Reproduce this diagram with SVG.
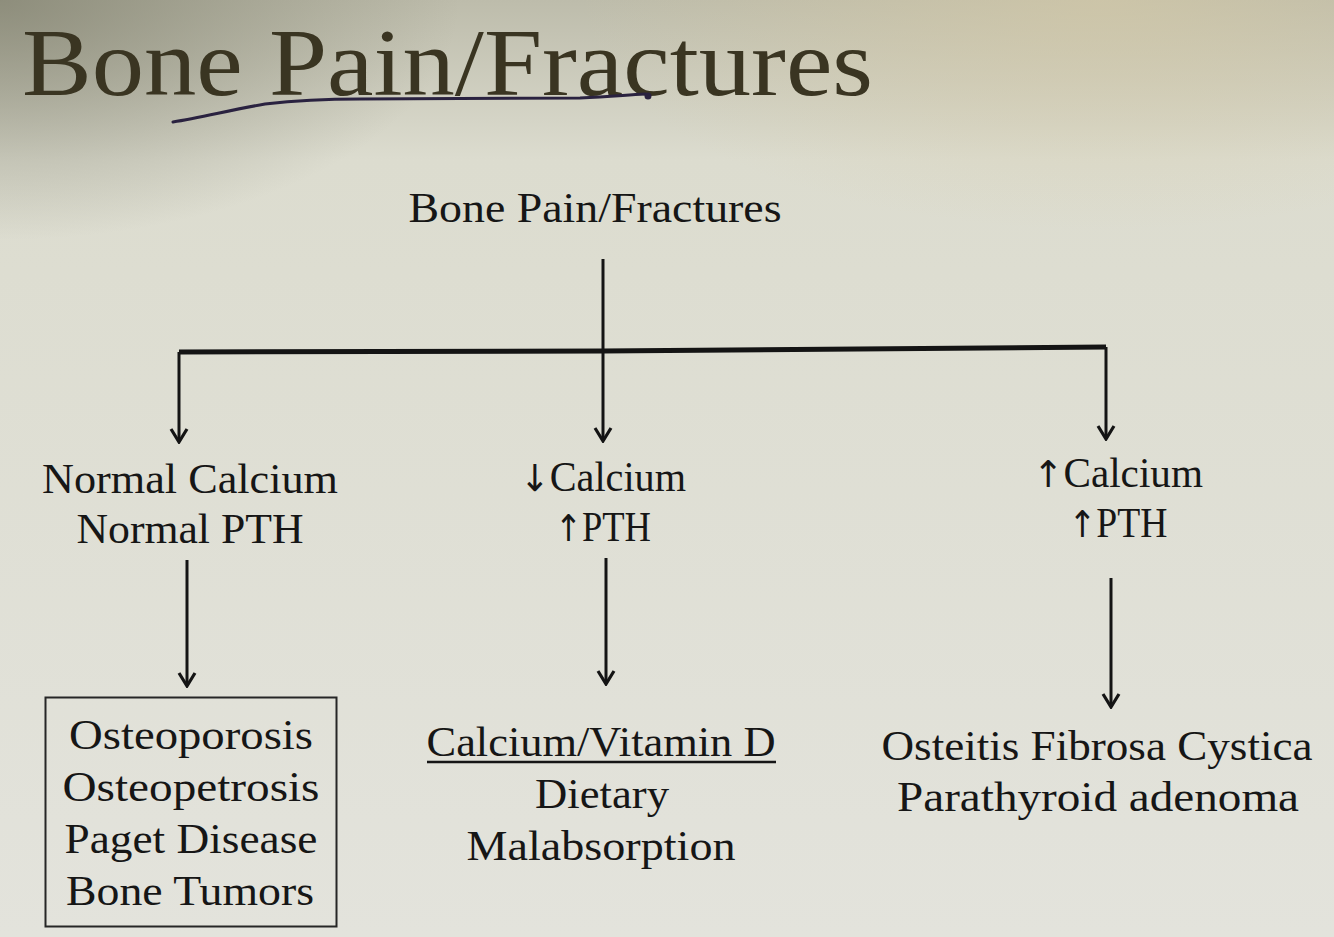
<svg xmlns="http://www.w3.org/2000/svg" width="1334" height="937" viewBox="0 0 1334 937">
<defs>
<linearGradient id="bg" x1="0" y1="0" x2="0" y2="1">
<stop offset="0" stop-color="#bdbcab"/>
<stop offset="0.17" stop-color="#dcdccf"/>
<stop offset="1" stop-color="#e3e3dc"/>
</linearGradient>
<radialGradient id="corner" cx="0" cy="0" r="1" gradientUnits="userSpaceOnUse" gradientTransform="translate(0,0) scale(460,240)">
<stop offset="0" stop-color="#7e7e6c" stop-opacity="0.75"/>
<stop offset="1" stop-color="#7e7e6c" stop-opacity="0"/>
</radialGradient>
<radialGradient id="warm" cx="0" cy="0" r="1" gradientUnits="userSpaceOnUse" gradientTransform="translate(1100,0) scale(520,230)">
<stop offset="0" stop-color="#d6caa6" stop-opacity="0.6"/>
<stop offset="1" stop-color="#d6caa6" stop-opacity="0"/>
</radialGradient>
<marker id="ah" viewBox="0 0 20 20" refX="18" refY="10" markerWidth="20" markerHeight="20" markerUnits="userSpaceOnUse" orient="auto">
<path d="M5 2 L18 10 L5 18" fill="none" stroke="#141414" stroke-width="3.2" stroke-linejoin="miter"/>
</marker>
<style>
.t{font-family:"Liberation Serif","DejaVu Serif",serif;fill:#161616;font-size:42px;text-anchor:middle}
.ar{font-family:"DejaVu Sans",sans-serif;font-size:37px}
.title{font-family:"Liberation Serif","DejaVu Serif",serif;fill:#3a3522;font-size:96px}
.ln{stroke:#141414;stroke-width:3;fill:none}
</style>
</defs>
<rect width="1334" height="937" fill="url(#bg)"/>
<rect width="1334" height="937" fill="url(#corner)"/>
<rect width="1334" height="937" fill="url(#warm)"/>

<g id="title">
<text class="title" x="22" y="95" textLength="851" lengthAdjust="spacingAndGlyphs">Bone Pain/Fractures</text>
<path d="M173 122 C200 118 230 110 265 104 C300 100 330 99 360 99 L580 98 C610 97 625 95 645 94" fill="none" stroke="#2a2240" stroke-width="3" stroke-linecap="round"/>
<circle cx="648" cy="96" r="3.5" fill="#2a2240"/>
</g>

<g id="connectors">
<line class="ln" x1="603" y1="259" x2="603" y2="441" marker-end="url(#ah)"/>
<path d="M179 352 L603 351 L1106 347" fill="none" stroke="#141414" stroke-width="5"/>
<line class="ln" x1="179" y1="352" x2="179" y2="442" marker-end="url(#ah)"/>
<line class="ln" x1="1106" y1="347" x2="1106" y2="439" marker-end="url(#ah)"/>
<line class="ln" x1="187" y1="560" x2="187" y2="686" marker-end="url(#ah)"/>
<line class="ln" x1="606" y1="558" x2="606" y2="684" marker-end="url(#ah)"/>
<line class="ln" x1="1111" y1="578" x2="1111" y2="707" marker-end="url(#ah)"/>
</g>

<g id="root">
<text class="t" x="595" y="222" font-size="40" textLength="373" lengthAdjust="spacingAndGlyphs">Bone Pain/Fractures</text>
</g>

<g id="normal">
<text class="t" x="190" y="493" textLength="296" lengthAdjust="spacingAndGlyphs">Normal Calcium</text>
<text class="t" x="190" y="543" textLength="227" lengthAdjust="spacingAndGlyphs">Normal PTH</text>
</g>

<g id="low">
<text class="t" x="603" y="491" textLength="166" lengthAdjust="spacingAndGlyphs"><tspan class="ar">↓</tspan>Calcium</text>
<text class="t" x="603" y="541" textLength="96" lengthAdjust="spacingAndGlyphs"><tspan class="ar">↑</tspan>PTH</text>
</g>

<g id="high">
<text class="t" x="1118" y="487" textLength="170" lengthAdjust="spacingAndGlyphs"><tspan class="ar">↑</tspan>Calcium</text>
<text class="t" x="1118" y="537" textLength="99" lengthAdjust="spacingAndGlyphs"><tspan class="ar">↑</tspan>PTH</text>
</g>

<g id="normal-causes">
<rect x="45.5" y="697.5" width="291" height="229" fill="none" stroke="#262626" stroke-width="2"/>
<text class="t" x="191" y="749" textLength="244" lengthAdjust="spacingAndGlyphs">Osteoporosis</text>
<text class="t" x="191" y="801" textLength="257" lengthAdjust="spacingAndGlyphs">Osteopetrosis</text>
<text class="t" x="191" y="853" textLength="253" lengthAdjust="spacingAndGlyphs">Paget Disease</text>
<text class="t" x="190" y="905" textLength="248" lengthAdjust="spacingAndGlyphs">Bone Tumors</text>
</g>

<g id="low-causes">
<text class="t" x="601" y="756" textLength="349" lengthAdjust="spacingAndGlyphs">Calcium/Vitamin D</text>
<line x1="427" y1="762" x2="776" y2="762" stroke="#161616" stroke-width="2.5"/>
<text class="t" x="602" y="808" textLength="134" lengthAdjust="spacingAndGlyphs">Dietary</text>
<text class="t" x="601" y="860" textLength="269" lengthAdjust="spacingAndGlyphs">Malabsorption</text>
</g>

<g id="high-causes">
<text class="t" x="1097" y="760" textLength="431" lengthAdjust="spacingAndGlyphs">Osteitis Fibrosa Cystica</text>
<text class="t" x="1098" y="811" textLength="402" lengthAdjust="spacingAndGlyphs">Parathyroid adenoma</text>
</g>
</svg>
